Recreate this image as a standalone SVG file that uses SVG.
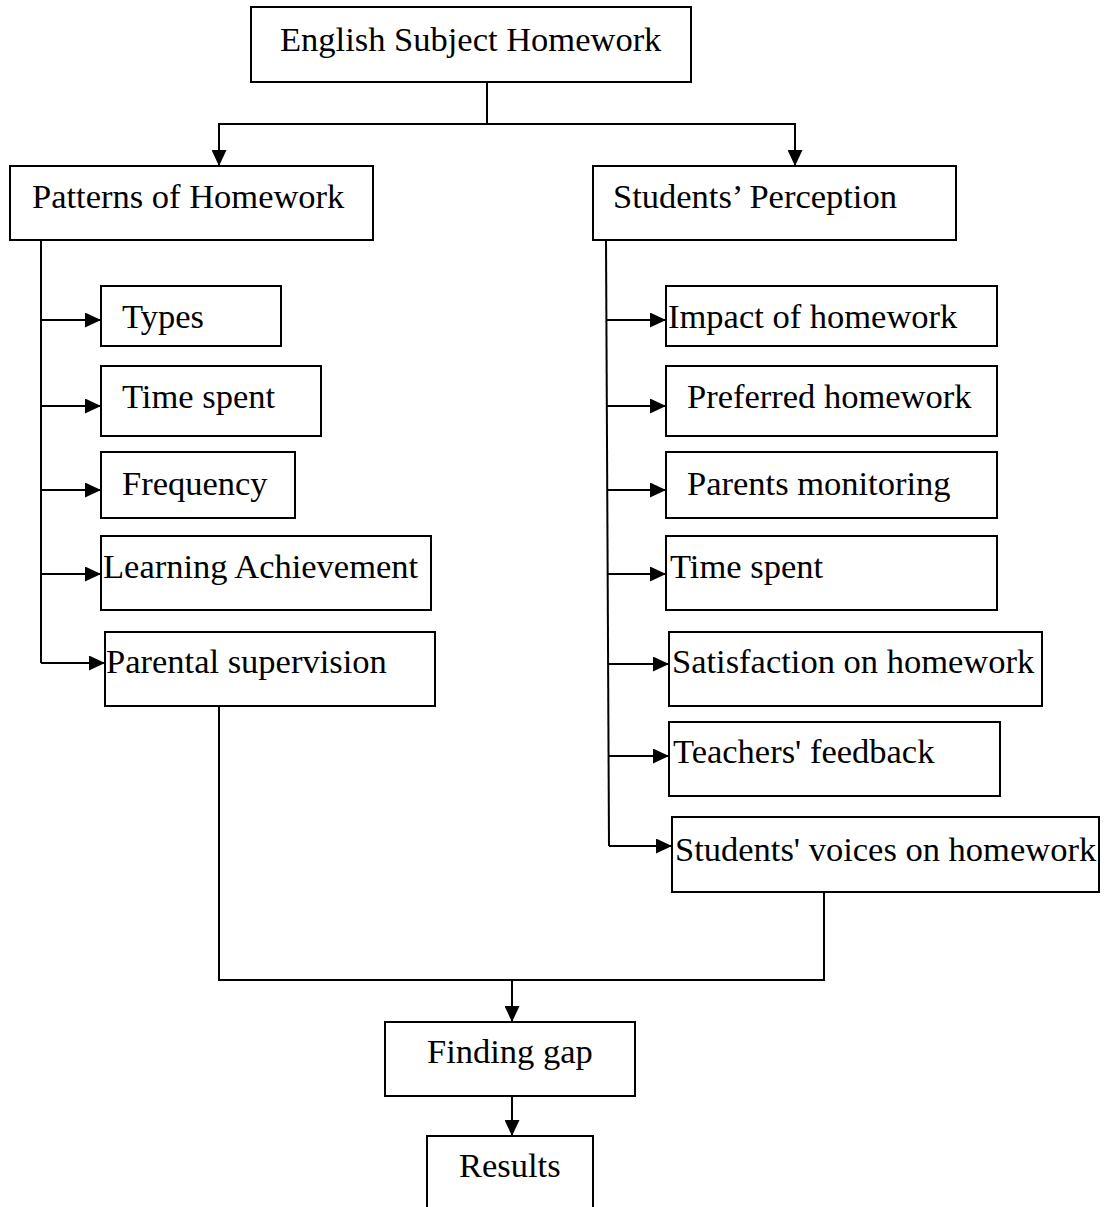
<svg xmlns="http://www.w3.org/2000/svg" width="1107" height="1207" viewBox="0 0 1107 1207">
<style>
rect.box{fill:#fff;stroke:#000;stroke-width:2}
text{font-family:"Liberation Serif","Times New Roman",serif;font-size:34.5px;fill:#000}
.conn line,.conn polyline{stroke:#000;stroke-width:2;fill:none}
</style>
<defs>
<marker id="ah" markerWidth="16" markerHeight="15" refX="16" refY="7.5" orient="auto" markerUnits="userSpaceOnUse">
<path d="M0,0 L16,7.5 L0,15 z" fill="#000"/>
</marker>
</defs>
<rect width="1107" height="1207" fill="#fff"/>
<g class="conn">
<line x1="487" y1="82" x2="487" y2="124"/>
<polyline points="219,166 219,124 795,124 795,166" marker-end="url(#ah)"/>
<line x1="219" y1="124" x2="219" y2="166" marker-end="url(#ah)"/>
<line x1="41" y1="240" x2="41" y2="663"/>
<line x1="41" y1="320" x2="101" y2="320" marker-end="url(#ah)"/>
<line x1="41" y1="406" x2="101" y2="406" marker-end="url(#ah)"/>
<line x1="41" y1="490" x2="101" y2="490" marker-end="url(#ah)"/>
<line x1="41" y1="574" x2="101" y2="574" marker-end="url(#ah)"/>
<line x1="41" y1="663" x2="105" y2="663" marker-end="url(#ah)"/>
<line x1="606" y1="240" x2="609" y2="846"/>
<line x1="606" y1="320" x2="666" y2="320" marker-end="url(#ah)"/>
<line x1="606" y1="406" x2="666" y2="406" marker-end="url(#ah)"/>
<line x1="607" y1="490" x2="666" y2="490" marker-end="url(#ah)"/>
<line x1="607" y1="574" x2="666" y2="574" marker-end="url(#ah)"/>
<line x1="608" y1="664" x2="669" y2="664" marker-end="url(#ah)"/>
<line x1="609" y1="756" x2="669" y2="756" marker-end="url(#ah)"/>
<line x1="609" y1="846" x2="672" y2="846" marker-end="url(#ah)"/>
<polyline points="219,706 219,980 824,980 824,892"/>
<line x1="512" y1="980" x2="512" y2="1022" marker-end="url(#ah)"/>
<line x1="512" y1="1096" x2="512" y2="1136" marker-end="url(#ah)"/>
</g>
<g id="n-english"><rect class="box" x="251" y="7" width="440" height="75"/><text x="280" y="51">English Subject Homework</text></g>
<g id="n-patterns"><rect class="box" x="10" y="166" width="363" height="74"/><text x="32" y="208">Patterns of Homework</text></g>
<g id="n-perception"><rect class="box" x="593" y="166" width="363" height="74"/><text x="613" y="208">Students’ Perception</text></g>
<g id="n-types"><rect class="box" x="101" y="286" width="180" height="60"/><text x="122" y="328">Types</text></g>
<g id="n-time1"><rect class="box" x="101" y="366" width="220" height="70"/><text x="122" y="408">Time spent</text></g>
<g id="n-frequency"><rect class="box" x="101" y="452" width="194" height="66"/><text x="122" y="495">Frequency</text></g>
<g id="n-learning"><rect class="box" x="101" y="536" width="330" height="74"/><text x="103" y="578">Learning Achievement</text></g>
<g id="n-parental"><rect class="box" x="105" y="632" width="330" height="74"/><text x="106" y="673">Parental supervision</text></g>
<g id="n-impact"><rect class="box" x="666" y="286" width="331" height="60"/><text x="668" y="328">Impact of homework</text></g>
<g id="n-preferred"><rect class="box" x="666" y="366" width="331" height="70"/><text x="687" y="408">Preferred homework</text></g>
<g id="n-parents"><rect class="box" x="666" y="452" width="331" height="66"/><text x="687" y="495">Parents monitoring</text></g>
<g id="n-time2"><rect class="box" x="666" y="536" width="331" height="74"/><text x="670" y="578">Time spent</text></g>
<g id="n-satisfaction"><rect class="box" x="669" y="632" width="373" height="74"/><text x="672" y="673">Satisfaction on homework</text></g>
<g id="n-teachers"><rect class="box" x="669" y="722" width="331" height="74"/><text x="673" y="763">Teachers' feedback</text></g>
<g id="n-voices"><rect class="box" x="672" y="817" width="427" height="75"/><text x="675" y="861">Students' voices on homework</text></g>
<g id="n-gap"><rect class="box" x="385" y="1022" width="250" height="74"/><text x="427" y="1063">Finding gap</text></g>
<g id="n-results"><rect class="box" x="427" y="1136" width="166" height="90"/><text x="459" y="1177">Results</text></g>
</svg>
